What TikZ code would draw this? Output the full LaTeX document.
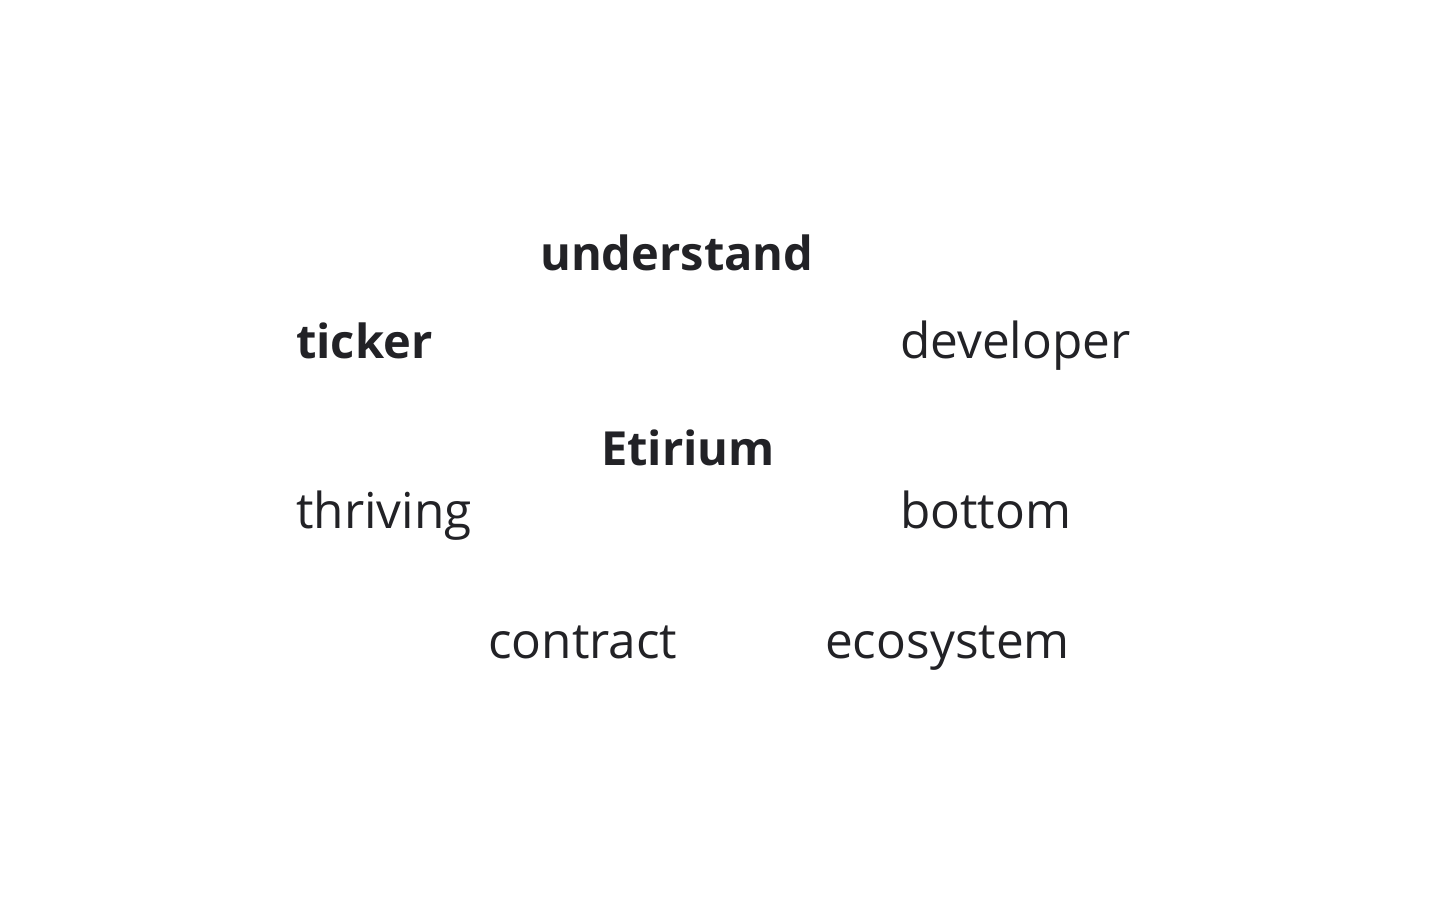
\documentclass[tikz,border=0pt]{standalone}
\usepackage{fontspec}
\setmainfont{Open Sans}
\definecolor{wordgray}{HTML}{222226}
\begin{document}
\begin{tikzpicture}[x=1pt,y=-1pt,
          every node/.style={inner sep=0pt,anchor=base west,text=wordgray},
          word/.style={font=\fontsize{49.5}{49.5}\selectfont},
          keyword/.style={font=\fontsize{47}{47}\selectfont\bfseries}]
          \useasboundingbox[fill=white](0,0)rectangle(1440,900);
          \node[keyword] (understand) at (540,270) {understand};
          \node[keyword] (ticker) at (296,358) {ticker};
          \node[word] (developer) at (900,358) {developer};
          \node[keyword] (etirium) at (601,465) {Etirium};
          \node[word] (thriving) at (296,528) {thriving};
          \node[word] (bottom) at (900,528) {bottom};
          \node[word] (contract) at (488,658) {contract};
          \node[word] (ecosystem) at (825,658) {ecosystem};
        \end{tikzpicture}
\end{document}
